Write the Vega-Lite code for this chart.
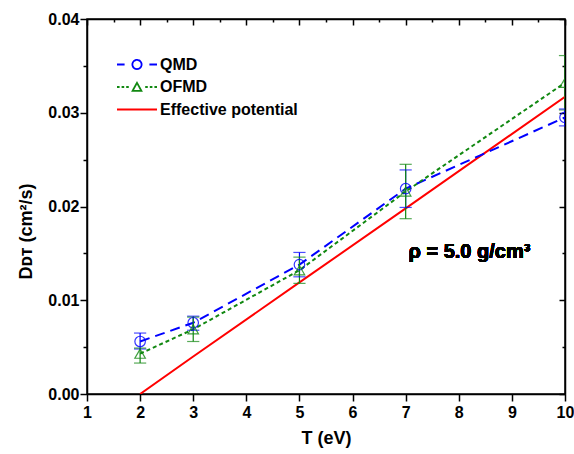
{
  "$schema": "https://vega.github.io/schema/vega-lite/v6.json",
  "width": 478,
  "height": 375,
  "autosize": {"type": "none"},
  "padding": {"left": 87, "top": 19, "right": 9, "bottom": 60},
  "background": "white",
  "data": {"values": [
    {"series": "QMD", "T": 2, "D": 0.0056, "lo": 0.0048, "hi": 0.0065},
    {"series": "QMD", "T": 3, "D": 0.0076, "lo": 0.0068, "hi": 0.0083},
    {"series": "QMD", "T": 5, "D": 0.0138, "lo": 0.0125, "hi": 0.0151},
    {"series": "QMD", "T": 7, "D": 0.0219, "lo": 0.0199, "hi": 0.0239},
    {"series": "QMD", "T": 10, "D": 0.0295, "lo": 0.0286, "hi": 0.0304},
    {"series": "OFMD", "T": 2, "D": 0.0043, "lo": 0.0033, "hi": 0.0049},
    {"series": "OFMD", "T": 3, "D": 0.0069, "lo": 0.0056, "hi": 0.0082},
    {"series": "OFMD", "T": 5, "D": 0.0132, "lo": 0.0118, "hi": 0.0146},
    {"series": "OFMD", "T": 7, "D": 0.0216, "lo": 0.0187, "hi": 0.0245},
    {"series": "OFMD", "T": 10, "D": 0.0332, "lo": 0.0303, "hi": 0.0361},
    {"series": "Effective potential", "T": 2, "D": 0.0},
    {"series": "Effective potential", "T": 3, "D": 0.004},
    {"series": "Effective potential", "T": 5, "D": 0.0119},
    {"series": "Effective potential", "T": 7, "D": 0.0198},
    {"series": "Effective potential", "T": 10, "D": 0.0317}
  ]},
  "layer": [
    {
      "layer": [
        {
          "transform": [{"filter": "datum.series == 'Effective potential'"}],
          "mark": {"type": "line", "strokeWidth": 2, "clip": true},
          "encoding": {
            "x": {"field": "T", "type": "quantitative", "title": "T (eV)",
              "scale": {"domain": [1, 10], "nice": false, "zero": false},
              "axis": {
                "values": [1, 1.5, 2, 2.5, 3, 3.5, 4, 4.5, 5, 5.5, 6, 6.5, 7, 7.5, 8, 8.5, 9, 9.5, 10],
                "labelExpr": "datum.value % 1 == 0 ? format(datum.value, 'd') : ''",
                "tickSize": {"condition": {"test": "datum.value % 1 == 0", "value": 7}, "value": 4},
                "labelPadding": 3,
                "titlePadding": 9,
                "labelFlush": false,
                "labelOverlap": false
              }},
            "y": {"field": "D", "type": "quantitative", "title": "Dᴅᴛ (cm²/s)",
              "scale": {"domain": [0, 0.04], "nice": false},
              "axis": {
                "values": [0, 0.005, 0.01, 0.015, 0.02, 0.025, 0.03, 0.035, 0.04],
                "labelExpr": "round(datum.value*1000) % 10 == 0 ? format(datum.value, '.2f') : ''",
                "tickSize": {"condition": {"test": "round(datum.value*1000) % 10 == 0", "value": 7}, "value": 4},
                "labelPadding": 1,
                "titlePadding": 12,
                "titleY": 212,
                "labelFlush": false,
                "labelOverlap": false
              }},
            "stroke": {"field": "series", "type": "nominal",
              "scale": {"domain": ["QMD", "OFMD", "Effective potential"], "range": ["#0000ff", "#118811", "#ff0000"]},
              "legend": {
                "orient": "none",
                "legendX": 30,
                "legendY": 37,
                "title": null,
                "padding": 0,
                "symbolSize": 1600,
                "symbolStrokeWidth": 1.8,
                "clipHeight": 17,
                "labelFont": "Liberation Sans",
                "labelFontWeight": "bold",
                "labelFontSize": 16,
                "labelColor": "black",
                "labelOffset": 1,
                "rowPadding": 5.5,
                "encode": {
                  "symbols": {
                    "update": {
                      "shape": {"signal": "datum.value == 'QMD' ? 'M-1,0H-0.62M0.62,0H1M-0.23,0A0.23,0.23 0 1,0 0.23,0A0.23,0.23 0 1,0 -0.23,0' : datum.value == 'OFMD' ? 'M-1,0H-0.87M-0.77,0H-0.64M-0.54,0H-0.41M0.41,0H0.54M0.64,0H0.77M0.87,0H1M-0.22,0.19L0,-0.21L0.22,0.19Z' : 'M-1,0H1'"},
                      "size": {"value": 1600},
                      "x": {"value": 20},
                      "fill": {"value": "transparent"},
                      "strokeDash": {"value": [1, 0]},
                      "strokeWidth": {"value": 1.8}
                    }
                  }
                }
              }}
          }
        },
        {
          "transform": [{"filter": "datum.series == 'QMD'"}],
          "mark": {"type": "line", "strokeWidth": 2, "strokeDash": [10, 6], "clip": true},
          "encoding": {
            "x": {"field": "T", "type": "quantitative", "title": "T (eV)"},
            "y": {"field": "D", "type": "quantitative", "title": "Dᴅᴛ (cm²/s)"},
            "stroke": {"field": "series", "type": "nominal"}
          }
        },
        {
          "transform": [{"filter": "datum.series == 'OFMD'"}],
          "mark": {"type": "line", "strokeWidth": 2, "strokeDash": [4, 3], "clip": true},
          "encoding": {
            "x": {"field": "T", "type": "quantitative", "title": "T (eV)"},
            "y": {"field": "D", "type": "quantitative", "title": "Dᴅᴛ (cm²/s)"},
            "stroke": {"field": "series", "type": "nominal"}
          }
        },
        {
          "transform": [{"filter": "datum.lo != null"}],
          "mark": {"type": "rule", "strokeWidth": 1.2, "clip": true},
          "encoding": {
            "x": {"field": "T", "type": "quantitative", "title": "T (eV)"},
            "y": {"field": "lo", "type": "quantitative", "title": "Dᴅᴛ (cm²/s)"},
            "y2": {"field": "hi"},
            "stroke": {"field": "series", "type": "nominal"}
          }
        },
        {
          "transform": [{"filter": "datum.lo != null"}],
          "mark": {"type": "tick", "orient": "horizontal", "size": 11, "thickness": 0.01, "filled": false, "strokeWidth": 1.2, "clip": true},
          "encoding": {
            "x": {"field": "T", "type": "quantitative", "title": "T (eV)"},
            "y": {"field": "lo", "type": "quantitative", "title": "Dᴅᴛ (cm²/s)"},
            "stroke": {"field": "series", "type": "nominal"}
          }
        },
        {
          "transform": [{"filter": "datum.lo != null"}],
          "mark": {"type": "tick", "orient": "horizontal", "size": 11, "thickness": 0.01, "filled": false, "strokeWidth": 1.2, "clip": true},
          "encoding": {
            "x": {"field": "T", "type": "quantitative", "title": "T (eV)"},
            "y": {"field": "hi", "type": "quantitative", "title": "Dᴅᴛ (cm²/s)"},
            "stroke": {"field": "series", "type": "nominal"}
          }
        },
        {
          "transform": [{"filter": "datum.lo != null"}],
          "mark": {"type": "point", "filled": false, "strokeWidth": 1.2, "opacity": 0.8, "clip": true},
          "encoding": {
            "x": {"field": "T", "type": "quantitative", "title": "T (eV)"},
            "y": {"field": "D", "type": "quantitative", "title": "Dᴅᴛ (cm²/s)"},
            "stroke": {"field": "series", "type": "nominal"},
            "shape": {"field": "series", "type": "nominal",
              "scale": {"domain": ["QMD", "OFMD"], "range": ["circle", "triangle-up"]},
              "legend": null},
            "size": {"value": 110}
          }
        },
        {
          "mark": {"type": "text", "font": "Liberation Sans", "fontWeight": "bold", "fontSize": 20, "color": "black", "align": "center", "baseline": "middle"},
          "encoding": {
            "x": {"datum": 8.2, "type": "quantitative"},
            "y": {"datum": 0.0152, "type": "quantitative"},
            "text": {"value": "ρ = 5.0 g/cm³"}
          }
        }
      ]
    },
    {
      "transform": [{"filter": "datum.T == 2"}],
      "mark": {"type": "point", "opacity": 0},
      "encoding": {
        "x": {"field": "T", "type": "quantitative", "title": null,
          "axis": {"orient": "top", "labels": false, "title": null,
            "values": [1, 1.5, 2, 2.5, 3, 3.5, 4, 4.5, 5, 5.5, 6, 6.5, 7, 7.5, 8, 8.5, 9, 9.5, 10],
            "tickSize": {"condition": {"test": "datum.value % 1 == 0", "value": -6}, "value": -3}}},
        "y": {"field": "D", "type": "quantitative", "title": null,
          "axis": {"orient": "right", "labels": false, "title": null,
            "values": [0, 0.005, 0.01, 0.015, 0.02, 0.025, 0.03, 0.035, 0.04],
            "tickSize": {"condition": {"test": "round(datum.value*1000) % 10 == 0", "value": -6}, "value": -3}}}
      }
    }
  ],
  "resolve": {"axis": {"x": "independent", "y": "independent"}},
  "config": {
    "font": "Liberation Sans",
    "view": {"stroke": "black", "strokeWidth": 1.5},
    "axis": {
      "grid": false,
      "domainColor": "black",
      "domainWidth": 1.5,
      "tickColor": "black",
      "tickWidth": 1.5,
      "labelColor": "black",
      "labelFont": "Liberation Sans",
      "labelFontWeight": "bold",
      "labelFontSize": 16,
      "titleFont": "Liberation Sans",
      "titleFontWeight": "bold",
      "titleFontSize": 18,
      "titleColor": "black"
    }
  }
}
